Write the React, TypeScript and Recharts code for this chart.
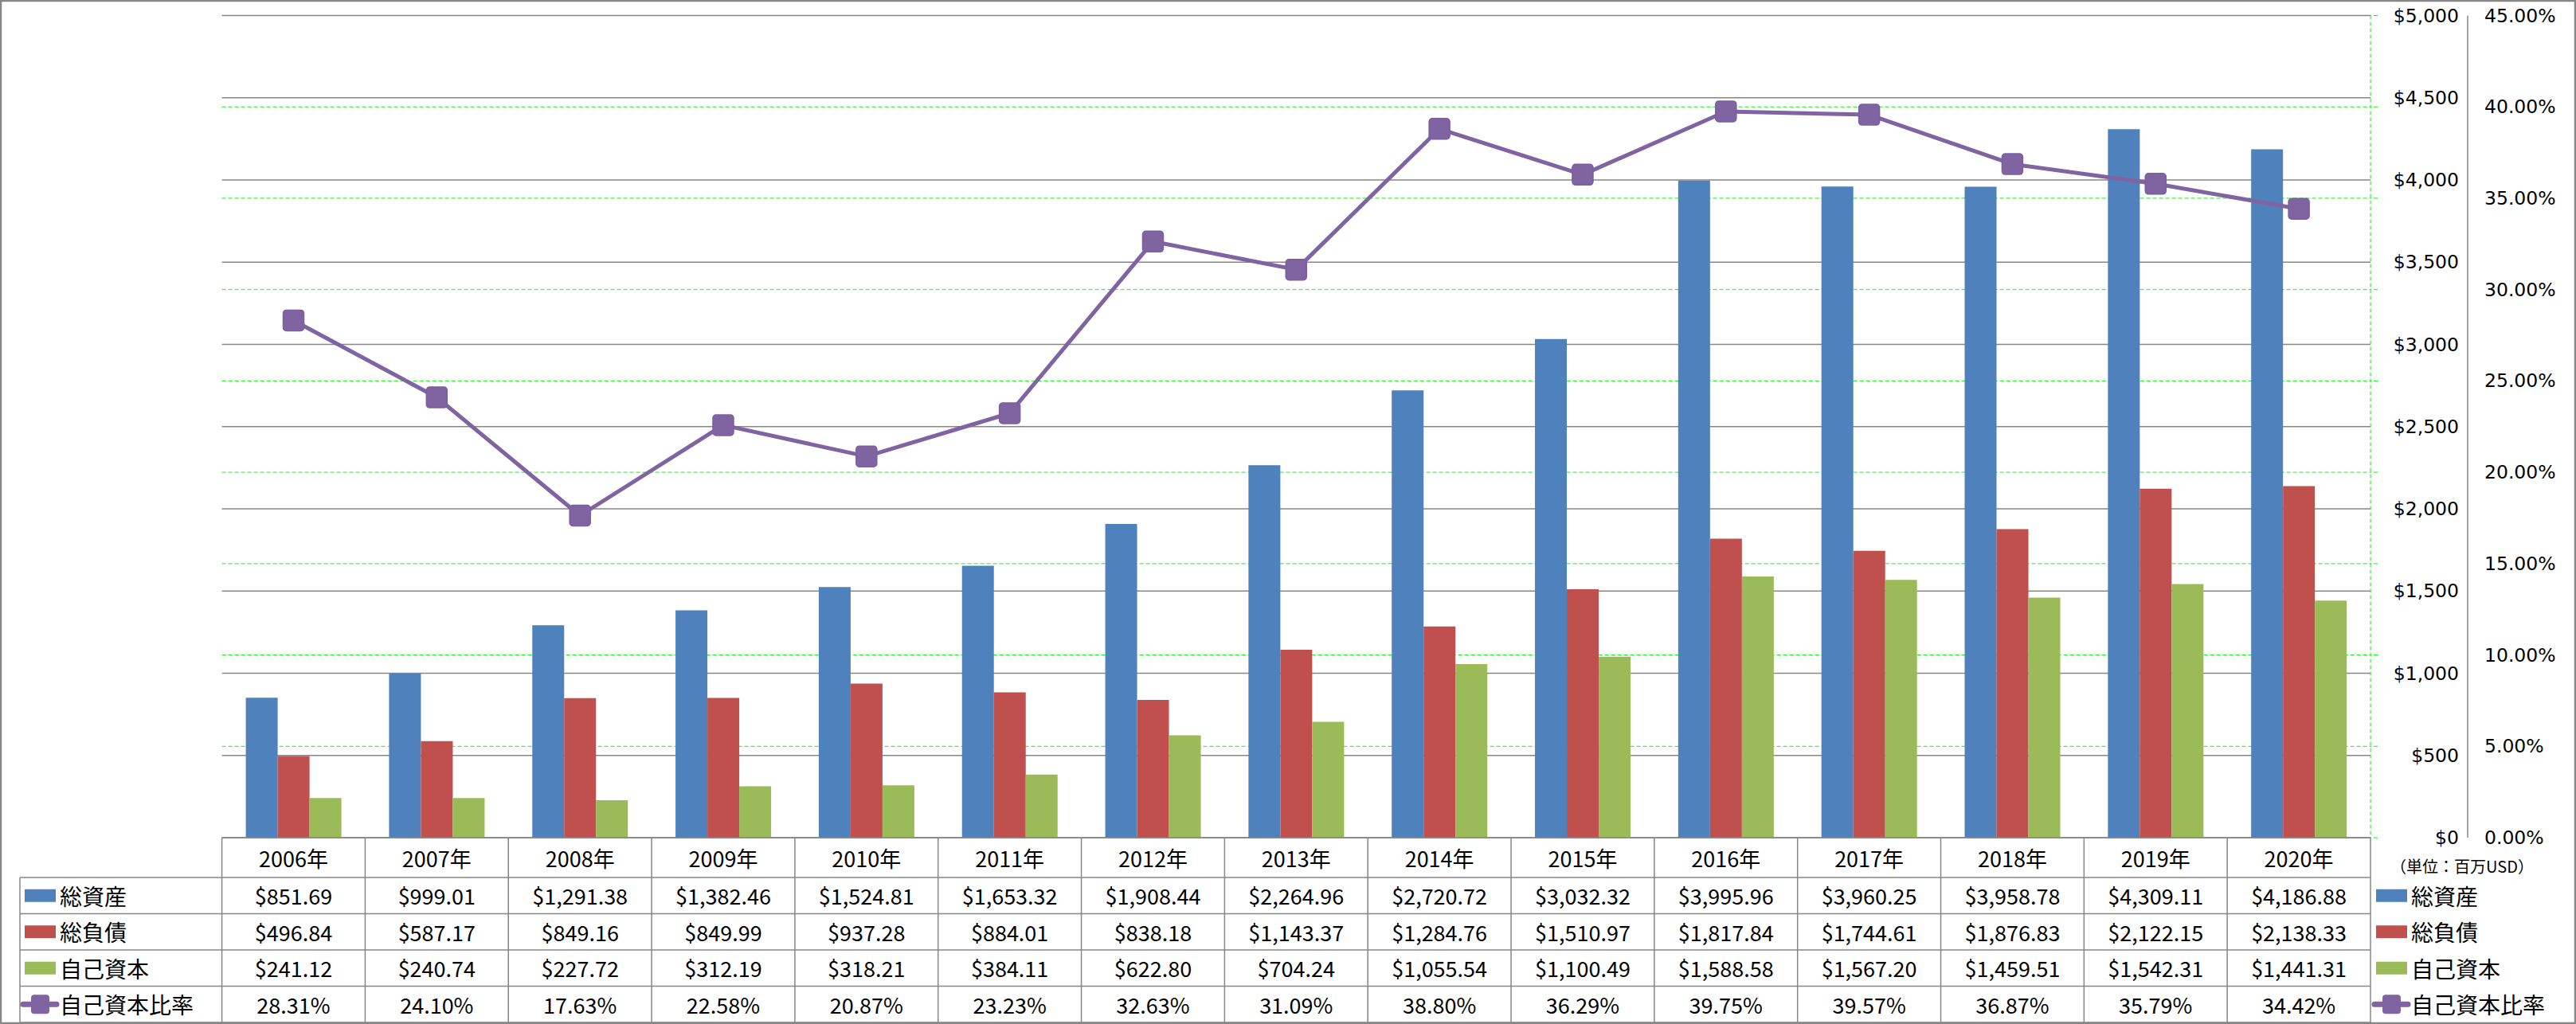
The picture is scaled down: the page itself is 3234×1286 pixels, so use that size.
import React from 'react';
import { ComposedChart, Bar, Line, XAxis, YAxis, CartesianGrid } from 'recharts';

// データ（単位：百万USD）
const years = ['2006年', '2007年', '2008年', '2009年', '2010年', '2011年', '2012年', '2013年', '2014年', '2015年', '2016年', '2017年', '2018年', '2019年', '2020年'];
const totalAssets = [851.69, 999.01, 1291.38, 1382.46, 1524.81, 1653.32, 1908.44, 2264.96, 2720.72, 3032.32, 3995.96, 3960.25, 3958.78, 4309.11, 4186.88];
const totalLiabilities = [496.84, 587.17, 849.16, 849.99, 937.28, 884.01, 838.18, 1143.37, 1284.76, 1510.97, 1817.84, 1744.61, 1876.83, 2122.15, 2138.33];
const equity = [241.12, 240.74, 227.72, 312.19, 318.21, 384.11, 622.8, 704.24, 1055.54, 1100.49, 1588.58, 1567.2, 1459.51, 1542.31, 1441.31];
const equityRatio = [28.31, 24.1, 17.63, 22.58, 20.87, 23.23, 32.63, 31.09, 38.8, 36.29, 39.75, 39.57, 36.87, 35.79, 34.42];

const usdTicks = [0, 500, 1000, 1500, 2000, 2500, 3000, 3500, 4000, 4500, 5000];
const pctTicks = [0, 5, 10, 15, 20, 25, 30, 35, 40, 45];

const seriesNames = ['総資産', '総負債', '自己資本', '自己資本比率'];
const seriesKeys = ['assets', 'liabilities', 'equity', 'ratio'];
const seriesColors = ['#4F81BD', '#C0504D', '#9BBB59', '#8064A2'];
const unitLabel = '（単位：百万USD）';

const chartData = years.map((year, i) => ({
  year,
  assets: totalAssets[i],
  liabilities: totalLiabilities[i],
  equity: equity[i],
  ratio: equityRatio[i],
}));

// レイアウト
const W = 3234;
const H = 1286;
const PLOT_L = 278.6;
const PLOT_R = 2976;
const PLOT_T = 19.5;
const PLOT_B = 1052;
const USD_AXIS_W = 116;
const PCT_AXIS_W = 122;
const CAT_W = (PLOT_R - PLOT_L) / years.length;
const ROW_Y = [PLOT_B, 1102, 1147.5, 1193, 1238.5, 1284];
const LEGEND_COL_L = 25;
const GRAY = '#878787';
const CJK = "'Noto Sans CJK JP', sans-serif";
const AXIS_FONT = "'DejaVu Sans', sans-serif";

const fmtUsd = (v: number) =>
  '$' + v.toLocaleString('en-US', { minimumFractionDigits: 2, maximumFractionDigits: 2 });
const fmtPct = (v: number) => v.toFixed(2) + '%';

const rowMid = (r: number) => (ROW_Y[r] + ROW_Y[r + 1]) / 2;

// X軸の目盛りとしてデータテーブルの列を描く
const TableColumn = (props: any) => {
  const { x, payload } = props;
  const i = years.indexOf(payload.value);
  const left = x - CAT_W / 2;
  const right = x + CAT_W / 2;
  const cells = [fmtUsd(totalAssets[i]), fmtUsd(totalLiabilities[i]), fmtUsd(equity[i]), fmtPct(equityRatio[i])];
  return (
    <g>
      <line x1={left} x2={left} y1={ROW_Y[0]} y2={ROW_Y[5]} stroke={GRAY} strokeWidth={1.5} />
      {i === years.length - 1 && (
        <line x1={right} x2={right} y1={ROW_Y[0]} y2={ROW_Y[5]} stroke={GRAY} strokeWidth={1.5} />
      )}
      {ROW_Y.slice(1).map((y) => (
        <line key={y} x1={left} x2={right} y1={y} y2={y} stroke={GRAY} strokeWidth={1.5} />
      ))}
      <text x={x} y={rowMid(0)} textAnchor="middle" dominantBaseline="central" fontSize={27} fontFamily={CJK} fill="#000">
        {payload.value}
      </text>
      {cells.map((c, r) => (
        <text key={r} x={x} y={rowMid(r + 1)} textAnchor="middle" dominantBaseline="central" fontSize={27} fontFamily={CJK} fill="#000">
          {c}
        </text>
      ))}
    </g>
  );
};

const UsdTick = (props: any) => (
  <text x={PLOT_R + 111} y={props.y} textAnchor="end" dominantBaseline="central" fontSize={23.5} fontFamily={AXIS_FONT} fill="#000">
    {'$' + props.payload.value.toLocaleString('en-US')}
  </text>
);

const PctTick = (props: any) => (
  <text x={3119} y={props.y} textAnchor="start" dominantBaseline="central" fontSize={23.5} fontFamily={AXIS_FONT} fill="#000">
    {props.payload.value.toFixed(2) + '%'}
  </text>
);

const SquareDot = (props: any) => {
  const { cx, cy, index } = props;
  if (cx == null || cy == null) return <g key={index} />;
  return <rect key={index} x={cx - 13} y={cy - 13} width={26} height={26} rx={4} fill="#8064A2" stroke="#7A5E9E" strokeWidth={1.5} />;
};

const LegendKey = ({ x, y, i }: { x: number; y: number; i: number }) => {
  if (i === 3) {
    return (
      <g>
        <line x1={x} x2={x + 42} y1={y} y2={y} stroke={seriesColors[i]} strokeWidth={7} strokeLinecap="round" />
        <rect x={x + 10} y={y - 12} width={23} height={24} rx={4} fill={seriesColors[i]} />
      </g>
    );
  }
  return <rect x={x + 2} y={y - 8} width={39} height={16} fill={seriesColors[i]} />;
};

const Overlay = () => (
  <svg width={W} height={H} style={{ position: 'absolute', left: 0, top: 0, pointerEvents: 'none' }}>
    {/* 凡例列 */}
    <line x1={LEGEND_COL_L} x2={LEGEND_COL_L} y1={ROW_Y[1]} y2={ROW_Y[5]} stroke={GRAY} strokeWidth={1.5} />
    {ROW_Y.slice(1).map((y) => (
      <line key={y} x1={LEGEND_COL_L} x2={PLOT_L} y1={y} y2={y} stroke={GRAY} strokeWidth={1.5} />
    ))}
    {seriesNames.map((name, i) => (
      <g key={name}>
        <LegendKey x={29} y={rowMid(i + 1)} i={i} />
        <text x={75} y={rowMid(i + 1)} dominantBaseline="central" fontSize={28} fontFamily={CJK} fill="#000">
          {name}
        </text>
      </g>
    ))}
    {/* 右側の凡例 */}
    <text x={3091} y={1087} textAnchor="middle" dominantBaseline="central" fontSize={20} fontFamily={CJK} fill="#000">
      {unitLabel}
    </text>
    {seriesNames.map((name, i) => (
      <g key={'r' + name}>
        <LegendKey x={2981} y={rowMid(i + 1)} i={i} />
        <text x={3027} y={rowMid(i + 1)} dominantBaseline="central" fontSize={28} fontFamily={CJK} fill="#000">
          {name}
        </text>
      </g>
    ))}
    <rect x={1} y={1} width={W - 2} height={H - 2} fill="none" stroke={GRAY} strokeWidth={2.5} />
  </svg>
);

export default function App() {
  return (
    <div style={{ position: 'relative', width: W, height: H, background: '#fff' }}>
      <style>{'body{margin:0}'}</style>
      <ComposedChart
        width={W}
        height={H}
        data={chartData}
        margin={{ top: PLOT_T, left: PLOT_L, right: W - PLOT_R - USD_AXIS_W - PCT_AXIS_W, bottom: 0 }}
        barGap={0}
      >
        <CartesianGrid yAxisId="pct" vertical={false} stroke="#00FF00" strokeDasharray="5 3" />
        <CartesianGrid yAxisId="usd" vertical={false} stroke={GRAY} strokeWidth={1.5} />
        <XAxis
          dataKey="year"
          height={H - PLOT_B}
          interval={0}
          tickLine={false}
          axisLine={{ stroke: GRAY, strokeWidth: 1.5 }}
          tick={<TableColumn />}
        />
        <YAxis
          yAxisId="usd"
          orientation="right"
          width={USD_AXIS_W}
          domain={[0, 5000]}
          ticks={usdTicks}
          tickLine={false}
          axisLine={{ stroke: GRAY, strokeWidth: 1.5 }}
          tick={<UsdTick />}
        />
        <YAxis
          yAxisId="pct"
          orientation="right"
          width={PCT_AXIS_W}
          domain={[0, 45]}
          ticks={pctTicks}
          tickSize={9}
          tickLine={{ stroke: '#00FF00', strokeDasharray: '5 3' }}
          axisLine={{ stroke: '#00FF00', strokeDasharray: '5 3' }}
          tick={<PctTick />}
        />
        {seriesKeys.slice(0, 3).map((k, i) => (
          <Bar key={k} yAxisId="usd" dataKey={k} name={seriesNames[i]} fill={seriesColors[i]} barSize={40} isAnimationActive={false} />
        ))}
        <Line
          yAxisId="pct"
          dataKey={seriesKeys[3]}
          name={seriesNames[3]}
          stroke={seriesColors[3]}
          strokeWidth={5}
          strokeLinejoin="round"
          dot={SquareDot}
          activeDot={false}
          isAnimationActive={false}
        />
      </ComposedChart>
      <Overlay />
    </div>
  );
}
